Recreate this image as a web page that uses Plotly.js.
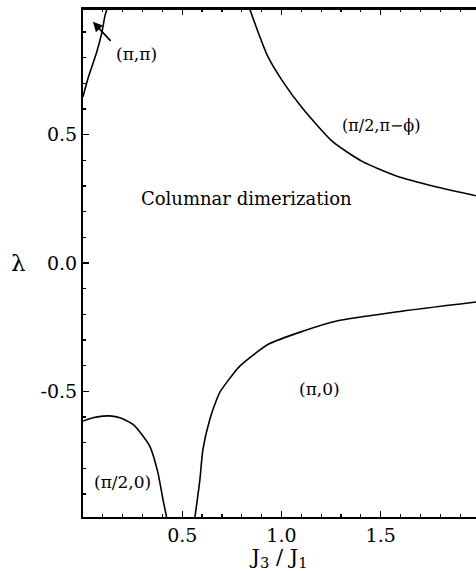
<!DOCTYPE html>
<html>
<head>
<meta charset="utf-8">
<script src="https://cdn.plot.ly/plotly-3.0.1.min.js"></script>
<style>
  html, body { margin: 0; padding: 0; background: #fff; }
  #divplot { width: 476px; height: 571px; }
</style>
</head>
<body>
<div id="divplot"></div>
<script>
// phase boundaries (J3/J1, lambda)
var piPiJ = [0.0, 0.025, 0.07, 0.096, 0.111, 0.121];
var piPiL = [0.648, 0.719, 0.824, 0.902, 0.965, 0.99];

var halfPiPhiJ = [0.84, 0.881, 0.931, 1.007, 1.107, 1.258, 1.409, 1.575, 1.777, 1.98];
var halfPiPhiL = [0.99, 0.902, 0.805, 0.707, 0.602, 0.473, 0.395, 0.340, 0.297, 0.262];

var piZeroJ = [0.564, 0.589, 0.604, 0.639, 0.674, 0.689, 0.790, 0.936, 1.107, 1.273, 1.575, 1.98];
var piZeroL = [-0.99, -0.844, -0.727, -0.609, -0.531, -0.504, -0.402, -0.316, -0.266, -0.227, -0.191, -0.152];

var domeJ = [0.0, 0.05, 0.1, 0.136, 0.186, 0.252, 0.302, 0.337, 0.377, 0.403, 0.421];
var domeL = [-0.616, -0.603, -0.597, -0.596, -0.603, -0.629, -0.674, -0.715, -0.816, -0.922, -0.99];

var xTicks = [0.5, 1.0, 1.5];
var xTickText = ['0.5', '1.0', '1.5'];
var yTicks = [-0.5, 0.0, 0.5];
var yTickText = ['-0.5', '0.0', '0.5'];

var serif = 'DejaVu Serif, Liberation Serif, serif';

var curve = {color: '#000', width: 1.6, shape: 'spline', smoothing: 0.6};
var traceData = [
    {x: piPiJ, y: piPiL, mode: 'lines', line: curve},
    {x: halfPiPhiJ, y: halfPiPhiL, mode: 'lines', line: curve},
    {x: piZeroJ, y: piZeroL, mode: 'lines', line: curve},
    {x: domeJ, y: domeL, mode: 'lines', line: curve}
];

var lbl = function(x, y, text, size){
    return {x: x, y: y, xref: 'x', yref: 'y', text: text, showarrow: false,
            xanchor: 'center', yanchor: 'middle',
            font: {family: serif, size: size || 17, color: '#000'}};
};

var layout = {
    width: 476,
    height: 571,
    margin: {l: 83, r: 0, t: 9, b: 54},
    paper_bgcolor: '#fff',
    plot_bgcolor: '#fff',
    showlegend: false,
    font: {family: serif, color: '#000'},
    xaxis: {
        range: [0, 1.98],
        tickvals: xTicks,
        ticktext: xTickText,
        ticks: 'inside',
        ticklen: 6,
        tickwidth: 1.2,
        tickcolor: '#000',
        minor: {dtick: 0.1, ticks: 'inside', ticklen: 3, tickcolor: '#000'},
        showline: true,
        linecolor: '#000',
        linewidth: 2,
        mirror: 'allticks',
        showgrid: false,
        zeroline: false,
        tickfont: {family: serif, size: 19, color: '#000'},
        title: {text: 'J<sub>3</sub> / J<sub>1</sub>', font: {family: serif, size: 21, color: '#000'}, standoff: 3}
    },
    yaxis: {
        range: [-0.99, 0.99],
        tickvals: yTicks,
        ticktext: yTickText,
        ticks: 'inside',
        ticklen: 6,
        tickwidth: 1.2,
        tickcolor: '#000',
        minor: {dtick: 0.1, ticks: 'inside', ticklen: 3, tickcolor: '#000'},
        showline: true,
        linecolor: '#000',
        linewidth: 2,
        mirror: false,
        showgrid: false,
        zeroline: false,
        tickfont: {family: serif, size: 19, color: '#000'}
    },
    shapes: [
        {type: 'line', xref: 'paper', yref: 'paper', x0: 0, x1: 1, y0: 1, y1: 1,
         layer: 'above', line: {color: '#000', width: 2}}
    ],
    annotations: [
        lbl(0.825, 0.25, 'Columnar dimerization', 18),
        lbl(1.5, 0.535, '(π/2,π−ϕ)', 16),
        lbl(1.19, -0.49, '(π,0)', 17),
        lbl(0.2, -0.855, '(π/2,0)', 17),
        lbl(0.27, 0.816, '(π,π)', 17),
        {x: 0.05, y: 0.94, xref: 'x', yref: 'y', ax: 0.146, ay: 0.86, axref: 'x', ayref: 'y',
         text: '', showarrow: true, arrowhead: 2, arrowsize: 1.2, arrowwidth: 1.6, arrowcolor: '#000'},
        {x: -0.163, y: 0, xref: 'paper', yref: 'y', text: 'λ', showarrow: false,
         xanchor: 'center', yanchor: 'middle',
         font: {family: serif, size: 23, color: '#000'}}
    ]
};

Plotly.newPlot('divplot', traceData, layout, {displayModeBar: false, staticPlot: true});
</script>
</body>
</html>
